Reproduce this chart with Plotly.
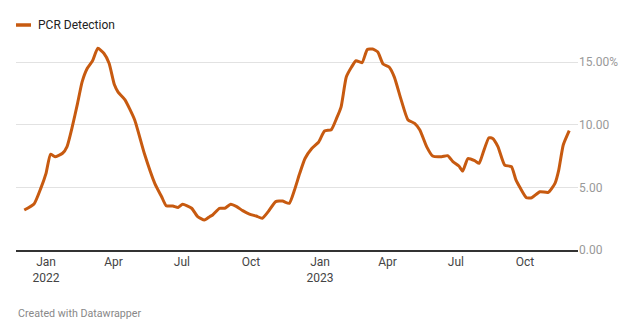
import plotly.graph_objects as go

dates = [
    "2021-12-03", "2021-12-16", "2021-12-25", "2022-01-01", "2022-01-07", "2022-01-13",
    "2022-01-23", "2022-01-29", "2022-02-05", "2022-02-12", "2022-02-18", "2022-02-25",
    "2022-03-04", "2022-03-11", "2022-03-19", "2022-03-26", "2022-04-02", "2022-04-07",
    "2022-04-16", "2022-04-29", "2022-05-12", "2022-05-26", "2022-06-04", "2022-06-10",
    "2022-06-19", "2022-06-26", "2022-07-02", "2022-07-14", "2022-07-22", "2022-07-31",
    "2022-08-07", "2022-08-11", "2022-08-20", "2022-08-27", "2022-09-04", "2022-09-12",
    "2022-09-20", "2022-09-29", "2022-10-08", "2022-10-16", "2022-10-24", "2022-11-03",
    "2022-11-12", "2022-11-21", "2022-11-28", "2022-12-05", "2022-12-12", "2022-12-21",
    "2022-12-30", "2023-01-07", "2023-01-16", "2023-01-23", "2023-01-29", "2023-02-05",
    "2023-02-12", "2023-02-18", "2023-02-26", "2023-03-05", "2023-03-12", "2023-03-19",
    "2023-03-26", "2023-04-03", "2023-04-10", "2023-04-19", "2023-04-28", "2023-05-07",
    "2023-05-14", "2023-05-23", "2023-05-31", "2023-06-12", "2023-06-20", "2023-06-27",
    "2023-07-05", "2023-07-10", "2023-07-17", "2023-07-26", "2023-08-01", "2023-08-06",
    "2023-08-14", "2023-08-19", "2023-08-26", "2023-09-04", "2023-09-13", "2023-09-19",
    "2023-09-25", "2023-10-03", "2023-10-10", "2023-10-21", "2023-11-01", "2023-11-10",
    "2023-11-15", "2023-11-21", "2023-11-29",
]
pcr_detection = [
    3.19, 3.67, 4.92, 6.12, 7.64, 7.45,
    7.72, 8.25, 9.84, 11.7, 13.4, 14.5,
    15.1, 16.1, 15.7, 14.9, 13.2, 12.6,
    12.0, 10.4, 7.7, 5.3, 4.25, 3.54,
    3.51, 3.40, 3.65, 3.33, 2.66, 2.39,
    2.66, 2.79, 3.33, 3.33, 3.65, 3.46,
    3.14, 2.87, 2.71, 2.53, 3.06, 3.86,
    3.91, 3.72, 4.79, 6.12, 7.30, 8.10,
    8.60, 9.50, 9.60, 10.5, 11.4, 13.8,
    14.6, 15.1, 14.95, 16.0, 16.04, 15.8,
    14.84, 14.6, 13.8, 12.0, 10.4, 10.1,
    9.58, 8.25, 7.50, 7.45, 7.53, 7.05,
    6.70, 6.30, 7.30, 7.13, 6.92, 7.72,
    8.96, 8.90, 8.25, 6.78, 6.65, 5.59,
    4.92, 4.17, 4.17, 4.65, 4.60, 5.32,
    6.38, 8.38, 9.52,
]
series_name = "PCR Detection"

x_tickvals = ["2022-01-01", "2022-04-01", "2022-07-01", "2022-10-01",
              "2023-01-01", "2023-04-01", "2023-07-01", "2023-10-01"]
x_ticktext = ["Jan<br>2022", "Apr", "Jul", "Oct", "Jan<br>2023", "Apr", "Jul", "Oct"]
y_tickvals = [0, 5, 10, 15]
y_ticktext = ["0.00", "5.00", "10.00", "15.00%"]

LINE = "#c75a10"
FONT = "Roboto"

fig = go.Figure()
fig.add_trace(go.Scatter(
    x=dates, y=pcr_detection, mode="lines", name=series_name,
    line=dict(color=LINE, width=3, shape="spline", smoothing=0.5),
    cliponaxis=False, showlegend=False,
))

# plot area: x 16..578 px, y 45..250 px
LEG_Y = (250 - 25) / 205.0

fig.update_layout(
    width=640, height=335,
    margin=dict(l=16, r=62, t=45, b=85),
    paper_bgcolor="white", plot_bgcolor="white",
    font=dict(family=FONT, size=12, color="#333333"),
    showlegend=False,
    xaxis=dict(
        range=["2021-11-22", "2023-12-10 16:00"],
        tickvals=x_tickvals, ticktext=x_ticktext,
        showgrid=False, showline=True, linecolor="#333333", linewidth=2,
        ticks="", tickfont=dict(size=12, color="#444444"),
        zeroline=False,
    ),
    yaxis=dict(
        range=[0, 16.36], side="right",
        tickvals=y_tickvals, ticktext=y_ticktext,
        showgrid=True, gridcolor="#e2e2e2", gridwidth=1,
        ticks="", tickfont=dict(size=12, color="#999999"),
        zeroline=False, showline=False,
    ),
    shapes=[dict(
        type="line", xref="paper", yref="paper",
        x0=0, x1=15 / 562.0, y0=LEG_Y, y1=LEG_Y,
        line=dict(color=LINE, width=3.5),
    )],
    annotations=[
        dict(
            text=series_name, xref="paper", yref="paper",
            x=20 / 562.0, y=LEG_Y, xanchor="left", yanchor="middle",
            showarrow=False, font=dict(size=12, color="#222222"),
        ),
        dict(
            text="Created with Datawrapper", xref="paper", yref="paper",
            x=0, y=0, yshift=-55, xanchor="left", yanchor="top",
            showarrow=False, font=dict(size=10.7, color="#888888"),
        ),
    ],
)

fig.write_html("out.html")
